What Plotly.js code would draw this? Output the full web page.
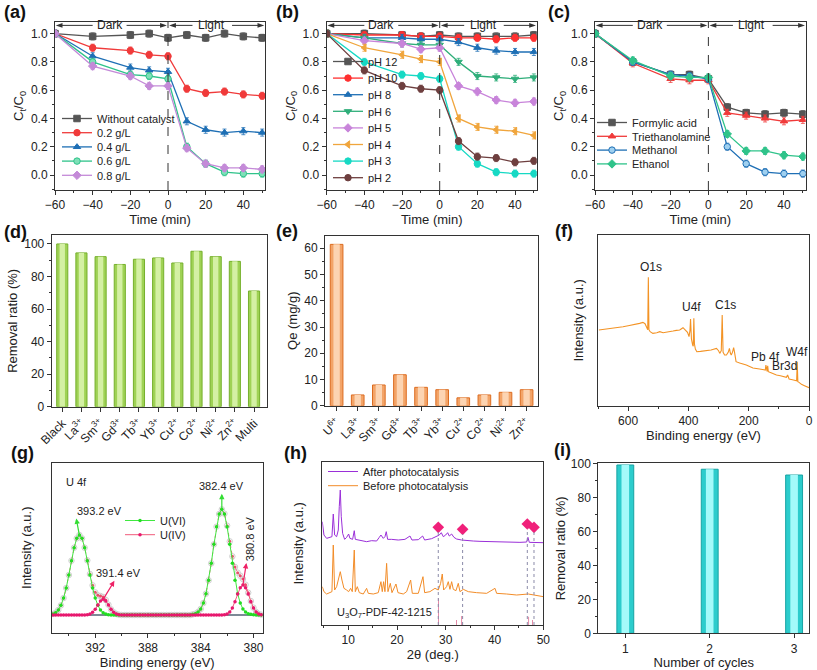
<!DOCTYPE html>
<html><head><meta charset="utf-8">
<script src="https://cdn.plot.ly/plotly-3.0.1.min.js"></script>
<style>html,body{margin:0;padding:0;background:#fff}#chart{width:817px;height:670px}</style>
</head><body><div id="chart"></div>
<script>
// ---------- data ----------
const timeMin = [-60,-40,-20,-10,0,10,20,30,40,50];
// (a) catalyst dosage
const aNames = ['Without catalyst','0.2 g/L','0.4 g/L','0.6 g/L','0.8 g/L'];
const aWithout = [1.0,0.98,0.99,1.0,0.97,0.99,0.97,1.0,0.98,0.97];
const a02 = [1.0,0.90,0.88,0.85,0.84,0.61,0.58,0.59,0.57,0.56];
const a04 = [1.0,0.84,0.76,0.74,0.73,0.38,0.32,0.30,0.31,0.30];
const a06 = [1.0,0.80,0.71,0.70,0.68,0.20,0.08,0.02,0.01,0.01];
const a08 = [1.0,0.77,0.70,0.63,0.63,0.19,0.08,0.05,0.05,0.04];
// (b) pH
const bNames = ['pH 12','pH 10','pH 8','pH 6','pH 5','pH 4','pH 3','pH 2'];
const bpH12 = [1.0,1.0,0.99,0.98,0.99,0.98,0.98,0.98,0.98,0.99];
const bpH10 = [1.0,0.99,0.99,0.98,0.98,0.97,0.97,0.96,0.97,0.97];
const bpH8  = [1.0,0.97,0.97,0.96,0.96,0.94,0.90,0.88,0.87,0.87];
const bpH6  = [1.0,0.97,0.93,0.92,0.92,0.80,0.70,0.69,0.68,0.69];
const bpH5  = [1.0,0.95,0.93,0.89,0.90,0.63,0.59,0.53,0.51,0.52];
const bpH4  = [1.0,0.90,0.85,0.82,0.80,0.40,0.34,0.32,0.31,0.28];
const bpH3  = [1.0,0.80,0.71,0.70,0.68,0.20,0.08,0.02,0.01,0.01];
const bpH2  = [1.0,0.74,0.63,0.61,0.60,0.24,0.13,0.12,0.09,0.10];
// (c) scavengers
const cNames = ['Formylic acid','Triethanolamine','Methanol','Ethanol'];
const cFormic = [1.0,0.80,0.71,0.71,0.68,0.48,0.44,0.43,0.44,0.43];
const cTEOA   = [1.0,0.79,0.68,0.67,0.67,0.44,0.42,0.40,0.38,0.39];
const cMeOH   = [1.0,0.80,0.71,0.70,0.68,0.20,0.08,0.02,0.01,0.01];
const cEtOH   = [1.0,0.81,0.70,0.69,0.69,0.29,0.17,0.17,0.14,0.13];
// (d) coexisting ions removal ratio
const dIons = ['Black','La<sup>3+</sup>','Sm<sup>3+</sup>','Gd<sup>3+</sup>','Tb<sup>3+</sup>','Yb<sup>3+</sup>','Cu<sup>2+</sup>','Co<sup>2+</sup>','Ni<sup>2+</sup>','Zn<sup>2+</sup>','Multi'];
const dRemoval = [100,94.5,92.2,87.4,90.6,91.4,88.3,95.5,92.2,89.3,71.1];
// (e) Qe
const eIons = ['U<sup>6+</sup>','La<sup>3+</sup>','Sm<sup>3+</sup>','Gd<sup>3+</sup>','Tb<sup>3+</sup>','Yb<sup>3+</sup>','Cu<sup>2+</sup>','Co<sup>2+</sup>','Ni<sup>2+</sup>','Zn<sup>2+</sup>'];
const eQe = [61.5,4.1,7.9,11.8,7.0,6.1,3.0,4.1,5.1,6.1];
// (f) XPS survey
const fBE = [697,680,660,640,617,600,580,562,551,544,539,535,533,531,527,518,505,495,484,473,462,451,440,429,418,410,403,398,395,393,390,386,384,382,380,377,372,360,341,325,307,300,296,291,288,285,280,274,268,264,261,258,254,250,247,242,230,208,186,170,164,150,145,143,141,139,137,135,130,120,108,95,86,75,71,69,66,55,45,41,39,37,33,25,15,0];
const fI  = [227,229,231,233,237,240,243,247,250,246,236,228,385,228,222,217,219,222,219,220,222,224,226,227,234,228,220,207,225,260,200,182,178,262,185,170,162,163,164,167,172,165,157,165,272,160,152,152,160,172,158,152,160,174,160,132,128,122,113,112,110,108,107,122,104,103,120,102,100,96,92,90,87,85,92,84,80,78,77,75,132,72,70,64,60,54];
const fPeakLabels = ['O1s','U4f','C1s','Pb 4f','Br3d','W4f'];
const fPeakBE = [523,390,278,144,81,40];
const fPeakI  = [417,297,302,147,120,162];
// (g) U 4f high resolution
const gBE = [395.2,395.0,394.8,394.6,394.4,394.2,394.0,393.8,393.6,393.4,393.2,393.0,392.8,392.6,392.4,392.2,392.0,391.8,391.6,391.4,391.2,391.0,390.8,390.6,390.4,390.2,390.0,389.8,389.6,389.4,389.2,389.0,388.8,388.6,388.4,388.2,388.0,387.8,387.6,387.4,387.2,387.0,386.8,386.6,386.4,386.2,386.0,385.8,385.6,385.4,385.2,385.0,384.8,384.6,384.4,384.2,384.0,383.8,383.6,383.4,383.2,383.0,382.8,382.6,382.4,382.2,382.0,381.8,381.6,381.4,381.2,381.0,380.8,380.6,380.4,380.2,380.0,379.8,379.6,379.4];
const gUVI = [3,7,15,29,51,81,120,163,202,230,240,230,202,163,120,81,51,29,15,7,3,1,0,0,0,0,
  0,0,0,0,0,0,0,0,0,0,0,0,0,0,0,0,0,0,0,0,0,0,0,0,0,0,0,
  2,4,9,18,36,64,104,155,212,265,303,317,303,265,212,155,104,64,36,18,9,4,2,1,0,0,0];
const gUIV = [0,0,0,0,0,0,0,0,0,0,0,0,0,1,3,8,17,30,42,47,42,30,17,8,3,1,
  0,0,0,0,0,0,0,0,0,0,0,0,0,0,0,0,0,0,0,0,0,0,0,0,0,0,0,
  0,0,0,0,0,0,0,0,0,0,0,0,1,3,9,21,40,63,82,90,82,63,40,21,9,3,1];
const gEnvelope = [3,7,15,29,51,81,120,163,202,230,240,230,202,164,123,89,68,59,57,54,45,31,17,8,3,1,
  0,0,0,0,0,0,0,0,0,0,0,0,0,0,0,0,0,0,0,0,0,0,0,0,0,0,0,
  2,4,9,18,36,64,104,155,212,265,303,317,304,268,221,176,144,127,118,108,91,67,42,22,9,3,1];
const gBaseX = [395.3,379.3];
const gBaseY = [0,0];
// (h) XRD
const hAfterX = [4.67,5.01,5.56,6.24,6.65,6.92,7.20,7.61,7.95,8.15,8.36,8.56,8.84,9.25,9.66,10.07,10.34,10.89,11.23,11.44,12.05,12.74,13.76,14.79,15.81,16.36,16.70,17.18,17.52,17.79,18.07,18.89,20.26,21.62,22.65,23.06,24.36,25.25,25.66,27.09,28.12,28.67,29.08,29.49,29.97,30.38,30.72,31.20,31.68,32.22,33.25,34.27,35.64,37.01,39.06,41.11,43.16,45.21,46.58,46.85,47.13,48.63,50.0];
const hAfterY = [310,270,260,263,265,333,270,265,285,355,405,325,275,257,263,273,260,257,283,257,255,252,250,253,252,263,270,260,265,280,257,257,255,257,267,255,256,267,255,259,265,270,277,265,270,277,267,273,263,258,255,253,252,251,250,249,249,248,249,263,248,247,247];
const hBeforeX = [4.67,5.01,5.56,6.24,6.65,6.92,7.20,7.61,8.02,8.36,8.70,9.11,9.66,10.07,10.48,10.82,11.23,11.44,11.85,12.26,13.08,13.76,14.10,15.13,16.15,16.70,16.97,17.25,17.52,17.86,18.14,18.62,18.96,19.78,20.19,21.28,21.97,22.79,23.13,24.36,25.32,25.66,26.75,27.78,28.46,28.94,29.28,29.56,30.17,30.51,30.85,31.20,31.54,32.09,32.56,32.91,33.59,34.62,36.32,38.38,40.09,40.43,42.48,44.53,46.92,48.63,50.0];
const hBeforeY = [115,100,93,97,100,240,105,115,140,160,135,110,105,100,110,100,225,100,115,97,93,110,95,93,97,130,100,130,100,185,100,125,97,123,97,93,100,135,95,95,145,97,100,110,105,125,153,105,115,130,107,130,107,103,125,100,107,100,97,95,110,95,93,90,93,88,85];
const hPdfX = [28.5,32.2,33.25,46.99,47.8];
const hPdfY = [80,15,27,25,15];
const hMarkX = [28.46,33.45,46.72,48.09];
const hMarkY = [293,287,303,293];
// (i) cycles
const iCycles = [1,2,3];
const iRemoval = [99.0,96.5,93.1];

// ---------- helpers ----------
const ink = '#222';
const axCommon = {showline:true, mirror:true, linecolor:'#333', linewidth:1, ticks:'outside', ticklen:4, tickwidth:1,
  tickcolor:'#333', showgrid:false, zeroline:false, automargin:false, tickfont:{size:12,color:ink}};
function ax(o){ return Object.assign({}, axCommon, o); }
function minor(d){ return {ticks:'outside', ticklen:2, tickwidth:1, tickcolor:'#333', dtick:d, showgrid:false}; }

function kin(name, y, color, symbol, xa, ya, legend, fill){
  return {type:'scatter', mode:'lines+markers', x:timeMin, y:y, name:name, xaxis:xa, yaxis:ya, legend:legend,
    line:{color:color, width:1.3},
    marker:{symbol:symbol, size:6.5, color:fill||color, line:{color:color, width:1}},
    error_y:{type:'constant', value:0.025, color:color, thickness:0.8, width:2}};
}
const traces = [];
// (a)
const aSeries = [aWithout,a02,a04,a06,a08];
const aColors = ['#555555','#f03a3a','#1e6fb5','#2fc38a','#c48ad8'];
const aSymbols = ['square','circle','triangle-up','circle','diamond'];
const aFills = [null,null,null,'#7fe0b8',null];
aSeries.forEach((s,i)=>traces.push(kin(aNames[i], s, aColors[i], aSymbols[i], 'x','y','legend', aFills[i])));
// (b)
const bSeries = [bpH12,bpH10,bpH8,bpH6,bpH5,bpH4,bpH3,bpH2];
const bColors = ['#555555','#ff3030','#1e6fb5','#2fae7a','#c884da','#f0a53c','#16d9c4','#6e3f3f'];
const bSymbols = ['square','circle','triangle-up','triangle-down','diamond','triangle-left','circle','circle'];
bSeries.forEach((s,i)=>traces.push(kin(bNames[i], s, bColors[i], bSymbols[i], 'x2','y2','legend2')));
// (c)
const cSeries = [cFormic,cTEOA,cMeOH,cEtOH];
const cColors = ['#555555','#f03a3a','#1e6fb5','#2fc38a'];
const cSymbols = ['square','triangle-up','circle','diamond'];
const cFills = [null,null,'#9fd0f0',null];
cSeries.forEach((s,i)=>traces.push(kin(cNames[i], s, cColors[i], cSymbols[i], 'x3','y3','legend3', cFills[i])));
// (d) bars (outer + inner highlight)
traces.push({type:'bar', x:dIons, y:dRemoval, xaxis:'x4', yaxis:'y4', width:0.58, showlegend:false,
  marker:{color:'#9fd255', line:{color:'#76b02c', width:1}}});
traces.push({type:'bar', x:dIons, y:dRemoval, xaxis:'x4', yaxis:'y4', width:0.28, showlegend:false,
  marker:{color:'#d4f0a4', line:{width:0}}});
// (e)
traces.push({type:'bar', x:eIons, y:eQe, xaxis:'x5', yaxis:'y5', width:0.6, showlegend:false,
  marker:{color:'#f3a468', line:{color:'#dc6c20', width:1}}});
traces.push({type:'bar', x:eIons, y:eQe, xaxis:'x5', yaxis:'y5', width:0.3, showlegend:false,
  marker:{color:'#fcd4b2', line:{width:0}}});
// (f)
traces.push({type:'scatter', mode:'lines', x:fBE, y:fI, xaxis:'x6', yaxis:'y6', showlegend:false,
  line:{color:'#f39325', width:1.1}});
// (g)
traces.push({type:'scatter', mode:'markers', x:gBE, y:gEnvelope, xaxis:'x7', yaxis:'y7', showlegend:false,
  marker:{symbol:'circle-open', size:5.5, color:'#cfcfcf', line:{width:1}}});
traces.push({type:'scatter', mode:'lines', x:gBaseX, y:gBaseY, xaxis:'x7', yaxis:'y7', showlegend:false,
  line:{color:'#7d8a96', width:2}});
traces.push({type:'scatter', mode:'lines+markers', x:gBE, y:gEnvelope, xaxis:'x7', yaxis:'y7', showlegend:false,
  line:{color:'#f0708a', width:1, dash:'dot'}, marker:{size:3, color:'#e8506a'}});
traces.push({type:'scatter', mode:'lines+markers', x:gBE, y:gUVI, xaxis:'x7', yaxis:'y7', name:'U(VI)', legend:'legend4',
  line:{color:'#40e840', width:1}, marker:{size:3.5, color:'#22dd22'}});
traces.push({type:'scatter', mode:'lines+markers', x:gBE, y:gUIV, xaxis:'x7', yaxis:'y7', name:'U(IV)', legend:'legend4',
  line:{color:'#f05a7a', width:1}, marker:{size:3.5, color:'#e8186e'}});
// (h)
traces.push({type:'scatter', mode:'lines', x:hAfterX, y:hAfterY, xaxis:'x8', yaxis:'y8', name:'After photocatalysis', legend:'legend5',
  line:{color:'#9a2fd8', width:1}});
traces.push({type:'scatter', mode:'lines', x:hBeforeX, y:hBeforeY, xaxis:'x8', yaxis:'y8', name:'Before photocatalysis', legend:'legend5',
  line:{color:'#f28c28', width:1}});
traces.push({type:'bar', x:hPdfX, y:hPdfY, xaxis:'x8', yaxis:'y8', width:0.18, showlegend:false,
  marker:{color:'#e07c9c', line:{width:0}}});
traces.push({type:'scatter', mode:'markers', x:hMarkX, y:hMarkY, xaxis:'x8', yaxis:'y8', showlegend:false,
  marker:{symbol:'diamond', size:9, color:'#f0207a'}});
// (i)
traces.push({type:'bar', x:iCycles, y:iRemoval, xaxis:'x9', yaxis:'y9', width:0.2, showlegend:false,
  marker:{color:'#2ccccc', line:{color:'#17a3a3', width:1}}});
traces.push({type:'bar', x:iCycles, y:iRemoval, xaxis:'x9', yaxis:'y9', width:0.09, showlegend:false,
  marker:{color:'#a4fafa', line:{width:0}}});

// ---------- layout ----------
const W = 817, H = 670;
const px = v => v / W, py = v => 1 - v / H;
const topRow = [py(190), py(22)];
const ctTitle = {text:'C<sub>t</sub>/C<sub>0</sub>', standoff:4, font:{size:13}};
const timeTitle = {text:'Time (min)', standoff:0, font:{size:13}};
function kinY(dom){ return ax({domain:dom, range:[-0.106,1.082], dtick:0.2, tick0:0, tickformat:'.1f', minor:minor(0.1), title:ctTitle}); }
function kinX(dom, anchor){ return ax({domain:dom, anchor:anchor, range:[-60,51.5], dtick:20, tick0:0, minor:minor(10), title:timeTitle}); }
const legBase = {xanchor:'left', yanchor:'top', bgcolor:'rgba(0,0,0,0)', font:{size:11}, itemwidth:30};

const layout = {
  width:W, height:H, margin:{l:0,r:0,t:0,b:0}, paper_bgcolor:'#fff', plot_bgcolor:'#fff',
  font:{family:'"Liberation Sans", Arial, sans-serif', size:12, color:ink},
  barmode:'overlay', showlegend:true,
  xaxis: kinX([px(55),px(265)],'y'),
  yaxis: Object.assign(kinY(topRow), {anchor:'x'}),
  xaxis2: kinX([px(326.7),px(536.7)],'y2'),
  yaxis2: Object.assign(kinY(topRow), {anchor:'x2'}),
  xaxis3: kinX([px(595),px(805.7)],'y3'),
  yaxis3: Object.assign(kinY(topRow), {anchor:'x3'}),
  xaxis4: ax({domain:[px(51.7),px(266.7)], anchor:'y4', type:'category', range:[-0.55,10.66], tickangle:-45}),
  yaxis4: ax({domain:[py(406.7),py(235)], anchor:'x4', range:[0,105.5], dtick:20, minor:minor(10),
    title:{text:'Removal ratio (%)', standoff:3, font:{size:13}}}),
  xaxis5: ax({domain:[px(325),px(538)], anchor:'y5', type:'category', range:[-0.55,9.54], tickangle:-45}),
  yaxis5: ax({domain:[py(405.7),py(235.7)], anchor:'x5', range:[0,64.8], dtick:10, minor:minor(5),
    title:{text:'Qe (mg/g)', standoff:3, font:{size:13}}}),
  xaxis6: ax({domain:[px(598),px(809)], anchor:'y6', range:[700,0], dtick:200, tick0:0, minor:minor(100),
    title:{text:'Binding energy (eV)', standoff:0, font:{size:13}}}),
  yaxis6: ax({domain:[py(405.7),py(235)], anchor:'x6', range:[0,512], ticks:'', showticklabels:false,
    title:{text:'Intensity (a.u.)', standoff:10, font:{size:13}}}),
  xaxis7: ax({domain:[px(51.7),px(262.7)], anchor:'y7', range:[395.3,379.3], dtick:4, tick0:380, minor:minor(2),
    title:{text:'Binding energy (eV)', standoff:0, font:{size:13}}}),
  yaxis7: ax({domain:[py(632.7),py(462.7)], anchor:'x7', range:[-53,457], ticks:'', showticklabels:false,
    title:{text:'Intensity (a.u.)', standoff:16, font:{size:13}}}),
  xaxis8: ax({domain:[px(322.3),px(543.3)], anchor:'y8', range:[4.67,50], dtick:10, tick0:0, minor:minor(5),
    title:{text:'2θ (deg.)', standoff:0, font:{size:13}}}),
  yaxis8: ax({domain:[py(625),py(461.7)], anchor:'x8', range:[0,490], ticks:'', showticklabels:false,
    title:{text:'Intensity (a.u.)', standoff:14, font:{size:13}}}),
  xaxis9: ax({domain:[px(598.3),px(809.3)], anchor:'y9', range:[0.68,3.18], dtick:1, tick0:1,
    title:{text:'Number of cycles', standoff:0, font:{size:13}}}),
  yaxis9: ax({domain:[py(633.3),py(463.3)], anchor:'x9', range:[0,100], dtick:20, minor:minor(10),
    title:{text:'Removal ratio (%)', standoff:2, font:{size:13}}}),
  legend:  Object.assign({x:px(57),  y:py(104)}, legBase),
  legend2: Object.assign({x:px(328), y:py(47)},  legBase),
  legend3: Object.assign({x:px(592), y:py(108)}, legBase),
  legend4: Object.assign({x:px(120), y:py(506)}, legBase),
  legend5: Object.assign({x:px(323), y:py(457)}, legBase),
  shapes:[], annotations:[]
};

// dashed separators + Dark/Light double arrows (lines + small filled triangles)
const arrowY = 1.058, headLen = 3.6, headHalf = 0.017;
function head(xr, yr, tip, dir){ // dir -1: pointing left, +1: pointing right
  const b = tip - dir*headLen;
  return {type:'path', xref:xr, yref:yr, path:`M ${tip},${arrowY} L ${b},${arrowY+headHalf} L ${b},${arrowY-headHalf} Z`,
    fillcolor:'#333', line:{width:0}};
}
['','2','3'].forEach(s=>{
  const xr='x'+s, yr='y'+s;
  layout.shapes.push({type:'line', xref:xr, yref:yr+' domain', x0:0, x1:0, y0:0, y1:1, line:{color:'#333', width:1, dash:'dash'}});
  [[-58,-40],[-22,-2],[2,13],[34,49.5]].forEach(([a,b])=>layout.shapes.push({type:'line', xref:xr, yref:yr, x0:a, x1:b, y0:arrowY, y1:arrowY, line:{color:'#333', width:1}}));
  layout.shapes.push(head(xr,yr,-59.6,-1), head(xr,yr,-0.6,1), head(xr,yr,0.6,-1), head(xr,yr,51.1,1));
  layout.annotations.push({xref:xr, yref:yr, x:-31, y:arrowY, text:'Dark', showarrow:false, font:{size:12}});
  layout.annotations.push({xref:xr, yref:yr, x:23, y:arrowY, text:'Light', showarrow:false, font:{size:12}});
});
// (f) peak labels
fPeakLabels.forEach((t,i)=>layout.annotations.push({xref:'x6', yref:'y6', x:fPeakBE[i], y:fPeakI[i], text:t, showarrow:false, font:{size:12}}));
// (g) labels with arrows (head at the text side)
layout.annotations.push({xref:'x7', yref:'y7', x:394.4, y:400, text:'U 4f', showarrow:false, xanchor:'left', font:{size:11}});
const gLab = [
  ['393.2 eV', 393.2, 240, 393.55, 312, 'left', 0, '#33dd33'],
  ['382.4 eV', 382.4, 317, 382.4, 386, 'center', 0, '#33dd33'],
  ['391.4 eV', 391.4, 47, 390.2, 125, 'center', 0, '#ee2266'],
  ['380.8 eV', 380.8, 90, 380.25, 228, 'center', -90, '#ee2266']];
gLab.forEach(([t,hx,hy,tx,ty,anc,ang,c])=>{
  layout.annotations.push({xref:'x7', yref:'y7', axref:'x7', ayref:'y7', x:hx, y:hy, ax:tx, ay:ty, text:t, xanchor:anc,
    textangle:ang, font:{size:11}, showarrow:true, arrowside:'start', startarrowhead:2, startarrowsize:0.9,
    arrowwidth:1.2, arrowcolor:c});
});
// (h) dotted guides + label
hMarkX.forEach((x,i)=>layout.shapes.push({type:'line', xref:'x8', yref:'y8', x0:x, x1:x, y0:0, y1:hMarkY[i]-14,
  line:{color:'#8a8aa8', width:1, dash:'dot'}}));
layout.annotations.push({xref:'x8', yref:'y8', x:7.2, y:35, text:'U<sub>3</sub>O<sub>7</sub>-PDF-42-1215', showarrow:false, xanchor:'left', font:{size:11}});
// panel letters
[['(a)',2,12],['(b)',274,12],['(c)',546,12],['(d)',2,232],['(e)',274,231],['(f)',553,231],['(g)',9,453],['(h)',282,453],['(i)',552,450]].forEach(([t,x,y])=>{
  layout.annotations.push({xref:'paper', yref:'paper', x:px(x), y:py(y), xanchor:'left', yanchor:'middle', text:'<b>'+t+'</b>', showarrow:false, font:{size:18, color:'#111'}});
});

// legend row spacing of the reference (px between entries)
const legendRowGap = {legend:14.2, legend2:16.6, legend3:13.8, legend4:14.2, legend5:14.2};
Plotly.newPlot('chart', traces, layout, {displayModeBar:false, staticPlot:true}).then(()=>{
  Object.keys(legendRowGap).forEach(id=>{
    const items = Array.from(document.querySelectorAll('g.'+id+' g.traces'));
    if(items.length < 2) return;
    const pos = items.map(el=>{
      const m = /translate\(\s*([-\d.e]+)[\s,]+([-\d.e]+)\s*\)/.exec(el.getAttribute('transform')||'');
      return m ? [+m[1], +m[2]] : null;
    });
    if(pos.some(p=>!p)) return;
    const ys = pos.map(p=>p[1]);
    const y0 = Math.min(...ys), y1 = Math.max(...ys);
    const step = (y1 - y0) / (items.length - 1);
    if(!(step > 0)) return;
    items.forEach((el,i)=>{
      const k = Math.round((pos[i][1] - y0) / step);
      el.setAttribute('transform', 'translate(' + pos[i][0] + ',' + (y0 + k * legendRowGap[id]) + ')');
    });
  });
});
</script>
</body></html>
